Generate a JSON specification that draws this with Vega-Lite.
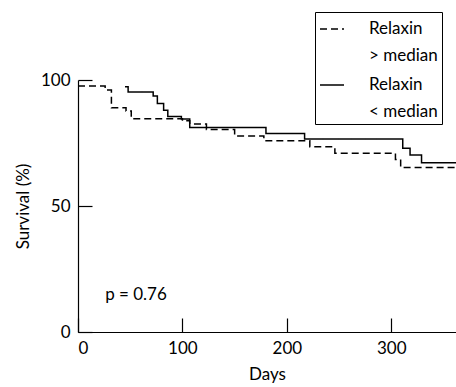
{
  "$schema": "https://vega.github.io/schema/vega-lite/v6.json",
  "width": 378,
  "height": 252,
  "autosize": {"type": "none"},
  "padding": {"left": 78, "top": 80, "right": 0, "bottom": 55},
  "config": {
    "view": {"stroke": null},
    "font": "Lato",
    "axis": {
      "grid": false,
      "domainColor": "black",
      "domainWidth": 1.2,
      "tickColor": "black",
      "tickWidth": 1.2,
      "tickSize": -14,
      "labelColor": "black",
      "titleColor": "black",
      "labelFontSize": 17,
      "titleFontSize": 17,
      "titleFontWeight": "normal",
      "labelFont": "Lato",
      "titleFont": "Lato"
    }
  },
  "datasets": {
    "km": [
      {"group": "gt", "day": 0, "survival": 97.6},
      {"group": "gt", "day": 26, "survival": 96.0},
      {"group": "gt", "day": 32, "survival": 89.0},
      {"group": "gt", "day": 46, "survival": 87.7},
      {"group": "gt", "day": 51, "survival": 84.6},
      {"group": "gt", "day": 100, "survival": 83.8},
      {"group": "gt", "day": 107, "survival": 82.5},
      {"group": "gt", "day": 123, "survival": 80.4},
      {"group": "gt", "day": 150, "survival": 77.8},
      {"group": "gt", "day": 178, "survival": 75.9},
      {"group": "gt", "day": 222, "survival": 73.5},
      {"group": "gt", "day": 246, "survival": 70.9},
      {"group": "gt", "day": 304, "survival": 68.5},
      {"group": "gt", "day": 309, "survival": 65.3},
      {"group": "gt", "day": 362, "survival": 65.3},
      {"group": "lt", "day": 45, "survival": 97.3},
      {"group": "lt", "day": 48, "survival": 95.2},
      {"group": "lt", "day": 72, "survival": 93.7},
      {"group": "lt", "day": 76, "survival": 90.7},
      {"group": "lt", "day": 82, "survival": 88.0},
      {"group": "lt", "day": 86, "survival": 85.5},
      {"group": "lt", "day": 99, "survival": 84.5},
      {"group": "lt", "day": 107, "survival": 81.2},
      {"group": "lt", "day": 180, "survival": 78.8},
      {"group": "lt", "day": 217, "survival": 76.6},
      {"group": "lt", "day": 311, "survival": 72.9},
      {"group": "lt", "day": 318, "survival": 70.2},
      {"group": "lt", "day": 329, "survival": 67.2},
      {"group": "lt", "day": 362, "survival": 67.2}
    ],
    "note": [{"label": "p = 0.76"}]
  },
  "layer": [
    {
      "data": {"name": "km"},
      "mark": {"type": "line", "interpolate": "step-after", "color": "black", "strokeWidth": 1.5},
      "encoding": {
        "x": {
          "field": "day", "type": "quantitative",
          "scale": {"domain": [0, 362], "nice": false},
          "axis": {"values": [0, 100, 200, 300], "title": "Days", "labelPadding": 22, "titlePadding": 10}
        },
        "y": {
          "field": "survival", "type": "quantitative",
          "scale": {"domain": [0, 100], "nice": false},
          "axis": {"values": [0, 50, 100], "title": "Survival (%)", "labelPadding": 22, "titlePadding": 8}
        },
        "strokeDash": {
          "field": "group", "type": "nominal",
          "scale": {"domain": ["gt", "lt"], "range": [[7, 4], [1, 0]]},
          "legend": {
            "orient": "none",
            "legendX": 237,
            "legendY": -68,
            "title": null,
            "strokeColor": "black",
            "padding": 4,
            "symbolType": "stroke",
            "symbolSize": 576,
            "symbolStrokeWidth": 1.5,
            "symbolStrokeColor": "black",
            "labelFontSize": 17,
            "labelFont": "Lato",
            "labelColor": "black",
            "labelOffset": 24,
            "labelLimit": 0,
            "rowPadding": 8,
            "labelExpr": "datum.label == 'gt' ? ['Relaxin', '> median'] : ['Relaxin', '< median']",
            "encode": {"labels": {"update": {"lineHeight": {"value": 27}}}}
          }
        }
      }
    },
    {
      "data": {"name": "note"},
      "mark": {"type": "text", "align": "left", "baseline": "middle", "fontSize": 17, "font": "Lato", "color": "black"},
      "encoding": {
        "x": {"datum": 26, "type": "quantitative"},
        "y": {"datum": 14.7, "type": "quantitative"},
        "text": {"field": "label"}
      }
    }
  ]
}
